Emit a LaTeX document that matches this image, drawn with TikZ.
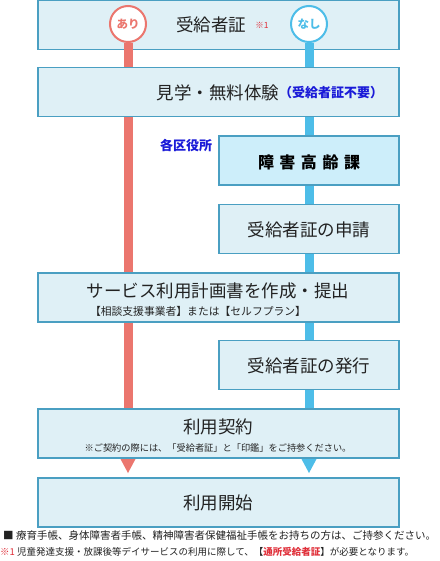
\documentclass[tikz,border=0pt]{standalone}
\usepackage{fontspec}
\setmainfont{Noto Sans CJK JP}
\definecolor{boxfill}{HTML}{DFF0F6}
\definecolor{boxfillb}{HTML}{CDEEFA}
\definecolor{boxline}{HTML}{4A9FC2}
\definecolor{redl}{HTML}{EB766E}
\definecolor{bluel}{HTML}{4DBDE8}
\definecolor{txtblue}{HTML}{1A1AD8}
\definecolor{txtred}{HTML}{E0303A}
\definecolor{txt}{HTML}{222222}
\tikzset{
  box/.style={draw=boxline, line width=1.6pt, fill=boxfill, minimum height=49pt, inner sep=0pt},
  fullbox/.style={box, minimum width=361pt},
  halfbox/.style={box, minimum width=180pt},
  bigtxt/.style={inner sep=0pt, text=txt, font=\fontsize{17.5}{19}\selectfont},
  smalltxt/.style={inner sep=0pt, text=txt, font=\fontsize{#1}{#1}\selectfont},
  badge/.style={circle, draw=#1, line width=2pt, fill=white, minimum size=36pt, inner sep=0pt, text=#1, font=\fontsize{11.5}{12}\selectfont\bfseries},
  stem/.style={line width=9pt, draw=#1},
  bluetxt/.style={inner sep=0pt, text=txtblue, font=\fontsize{13}{14}\selectfont\bfseries}
}
\begin{document}
\begin{tikzpicture}[x=1pt,y=-1pt]
\useasboundingbox[fill=white] (0,0) rectangle (439,561);
% first box
\node[fullbox] (b1) at (218.5,25) {};
\node[bigtxt] (t1) at (211,25) {受給者証};
\node[inner sep=0pt, text=txtred, font=\fontsize{8.5}{9}\selectfont] (n1) at (262,25) {※1};
% badges
\node[badge=redl] (ari) at (128,24) {あり};
\node[badge=bluel] (nashi) at (309,24) {なし};
% stems
\coordinate (ariend) at (128,461);
\coordinate (nashiend) at (309,461);
\draw[stem=redl] (ari.south) -- (ariend);
\draw[stem=bluel] (nashi.south) -- (nashiend);
\fill[redl] (120.5,459) -- (135.5,459) -- (128,473) -- cycle;
\fill[bluel] (301.5,459) -- (316.5,459) -- (309,473) -- cycle;
% box 2
\node[fullbox] (b2) at (218.5,92) {};
\node[bigtxt] (t2) at (218,93) {見学・無料体験};
\node[bluetxt] (t2b) at (331,93) {（受給者証不要）};
% office label
\node[bluetxt] (office) at (186,146) {各区役所};
% box 3
\node[halfbox, fill=boxfillb] (b3) at (309,160.5) {};
\node[inner sep=0pt, text=black, font=\fontsize{16}{17}\selectfont\bfseries] (t3) at (309,162) {障\hspace{5.5pt}害\hspace{5.5pt}高\hspace{5.5pt}齢\hspace{5.5pt}課};
% box 4
\node[halfbox] (b4) at (309,229) {};
\node[bigtxt] (t4) at (309,230) {受給者証の申請};
% box 5
\node[fullbox] (b5) at (218.5,297.5) {};
\node[bigtxt] (t5) at (218,291) {サービス利用計画書を作成・提出};
\node[smalltxt=10.8] (t5b) at (198,311) {【相談支援事業者】または【セルフプラン】};
% box 6
\node[halfbox] (b6) at (309,365) {};
\node[bigtxt] (t6) at (309,366) {受給者証の発行};
% box 7
\node[fullbox] (b7) at (218.5,433.5) {};
\node[bigtxt] (t7) at (218,427) {利用契約};
\node[smalltxt=9.2] (t7b) at (218,448) {※ご契約の際には、「受給者証」と「印鑑」をご持参ください。};
% box 8
\node[fullbox] (b8) at (218.5,502.5) {};
\node[bigtxt] (t8) at (218,503) {利用開始};
% footer
\node[smalltxt=10.5, anchor=west] (f1) at (3,536) {■ 療育手帳、身体障害者手帳、精神障害者保健福祉手帳をお持ちの方は、ご持参ください。};
\node[smalltxt=9.5, anchor=west] (f2) at (0,552) {\textcolor{txtred}{※1} 児童発達支援・放課後等デイサービスの利用に際して、【\textcolor{txtred}{\bfseries 通所受給者証}】が必要となります。};
\end{tikzpicture}
\end{document}
